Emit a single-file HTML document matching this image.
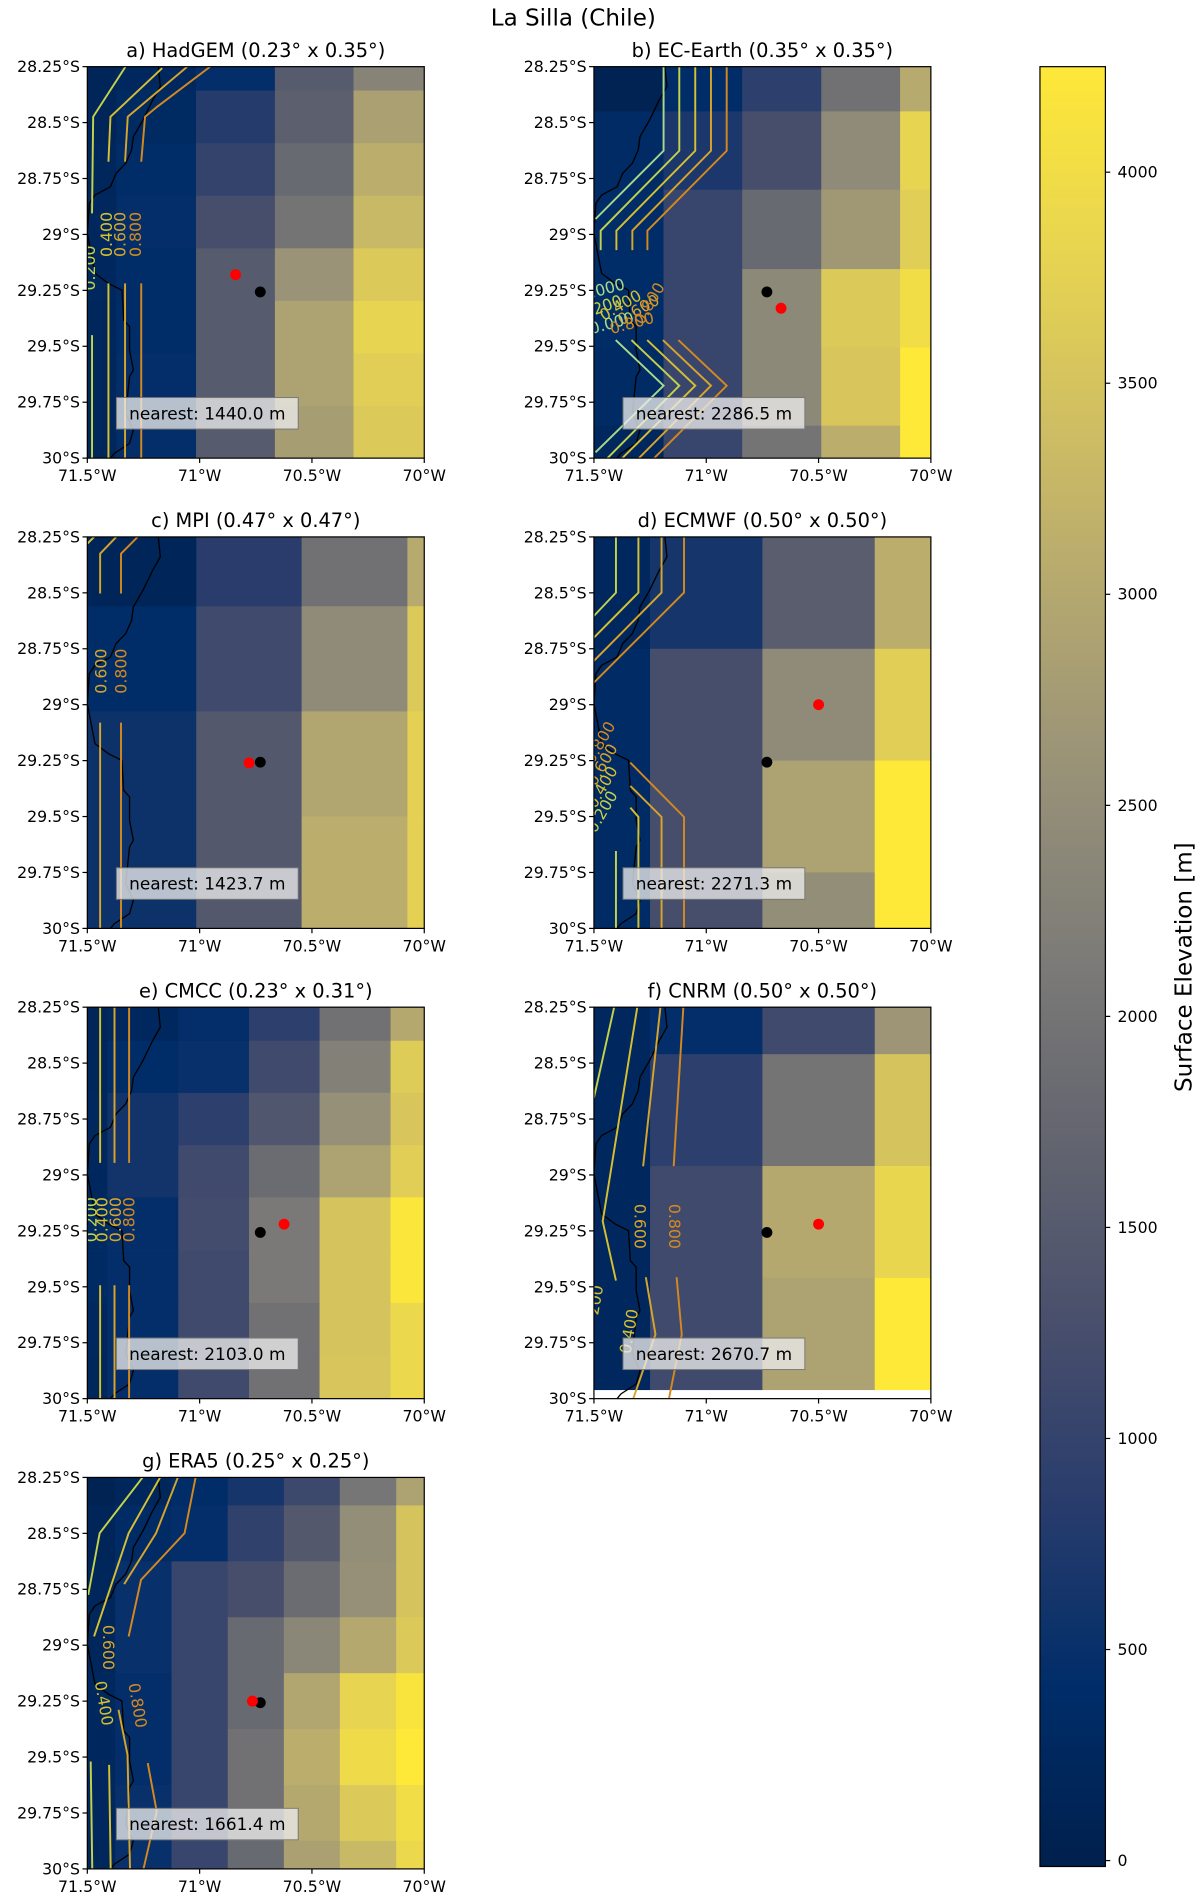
<!DOCTYPE html>
<html><head><meta charset="utf-8"><style>
html,body{margin:0;padding:0;background:#fff;}
svg{display:block;font-family:"DejaVu Sans","Liberation Sans",sans-serif;}
</style></head><body>
<svg id="fig" width="1200" height="1898" viewBox="0 0 990 1566" xmlns="http://www.w3.org/2000/svg">
<text x="473" y="21" font-size="19" text-anchor="middle">La Silla (Chile)</text>
</svg>
<script>
// ---------- data ----------
const stationLon = 70.73, stationLat = 29.257;
const panelTitles = ["a) HadGEM (0.23° x 0.35°)","b) EC-Earth (0.35° x 0.35°)","c) MPI (0.47° x 0.47°)","d) ECMWF (0.50° x 0.50°)","e) CMCC (0.23° x 0.31°)","f) CNRM (0.50° x 0.50°)","g) ERA5 (0.25° x 0.25°)"];
const nearestLabels = ["nearest: 1440.0 m","nearest: 2286.5 m","nearest: 1423.7 m","nearest: 2271.3 m","nearest: 2103.0 m","nearest: 2670.7 m","nearest: 1661.4 m"];
const modelLon = [70.84,70.667,70.78,70.5,70.624,70.5,70.765];
const modelLat = [29.18,29.33,29.26,29.0,29.22,29.22,29.25];
const lonEdgesA=[71.6,71.37,71.016,70.665,70.315,69.96];
const latEdgesA=[28.12,28.357,28.592,28.827,29.062,29.297,29.532,29.767,30.002];
const valsA=[[150,250,450,1500,2300],[150,300,800,1600,2850],[200,400,1000,1800,3100],[250,450,1250,2000,3300],[250,400,1500,2600,3600],[200,400,1500,2900,3800],[200,450,1500,2900,3700],[200,450,1500,2800,3600]];
const lonEdgesB=[71.6,71.19,70.84,70.488,70.137,69.9];
const latEdgesB=[28.1,28.45,28.8,29.155,29.505,29.855,30.2];
const valsB=[[100,400,900,1950,3050],[350,700,1250,2450,3800],[400,1050,1800,2700,3700],[400,1050,2400,3600,4000],[350,1050,2400,3550,4250],[250,1050,2000,3100,4250]];
const lonEdgesC=[71.96,71.49,71.015,70.546,70.075,69.6];
const latEdgesC=[28.09,28.56,29.03,29.5,29.97,30.44];
const valsC=[[150,150,850,1950,3050],[400,400,1150,2450,3600],[550,550,1450,2950,3750],[550,550,1450,3100,3750],[550,550,1450,3100,3750]];
const lonEdgesD=[71.75,71.25,70.75,70.25,69.75];
const latEdgesD=[28.25,28.75,29.25,29.75,30.25];
const valsD=[[250,650,1550,3100],[350,1250,2450,3700],[350,1250,2900,4250],[350,1250,2500,4250]];
const lonEdgesE=[71.6,71.41,71.095,70.78,70.466,70.15,69.9];
const latEdgesE=[28.16,28.4,28.633,28.867,29.1,29.338,29.572,29.807,30.04];
const valsE=[[150,250,450,900,1950,3000],[200,400,500,1150,2250,3650],[250,600,900,1400,2550,3550],[250,600,1150,1850,2900,3700],[300,450,1200,2100,3500,4200],[300,450,1150,2100,3500,4200],[250,450,1150,1950,3500,3900],[200,450,1150,1950,3550,3900]];
const lonEdgesF=[71.75,71.25,70.75,70.25,69.75];
const latEdgesF=[27.96,28.46,28.96,29.46,29.96];
const valsF=[[250,450,1150,2650],[250,900,2000,3500],[250,1150,3000,3850],[250,1150,2900,4250]];
const lonEdgesG=[71.6,71.376,71.125,70.875,70.625,70.376,70.125,69.9];
const latEdgesG=[28.125,28.375,28.625,28.875,29.125,29.375,29.625,29.875,30.125];
const valsG=[[100,200,400,650,1100,2050,2900],[150,350,450,950,1450,2500,3500],[200,500,1050,1250,1850,2550,3500],[200,500,1050,1800,2350,3000,3600],[250,450,1050,1800,2950,3800,4150],[250,450,1050,1950,3100,3950,4250],[250,500,1050,1950,3000,3600,4000],[200,500,1050,1800,2850,3300,3900]];
const coastLon=[71.184,71.175,71.209,71.252,71.295,71.303,71.329,71.372,71.397,71.466,71.491,71.5,71.466,71.406,71.346,71.338,71.312,71.312,71.295,71.312,71.329,71.295,71.312,71.38,71.397];
const coastLat=[28.25,28.339,28.399,28.488,28.563,28.623,28.682,28.727,28.787,28.824,28.861,28.995,29.174,29.219,29.249,29.383,29.412,29.517,29.606,29.636,29.8,29.874,29.934,29.979,30.0];
const contoursA=[[0.2,[71.33,71.474,71.479],[28.25,28.474,28.906]],[0.2,[71.479,71.479],[29.45,30]],[0.4,[71.167,71.397,71.406],[28.257,28.474,28.675]],[0.4,[71.406,71.406],[29.219,30]],[0.6,[71.055,71.32,71.332],[28.25,28.474,28.675]],[0.6,[71.332,71.332],[29.219,30]],[0.8,[70.953,71.19,71.243,71.26],[28.25,28.43,28.474,28.675]],[0.8,[71.26,71.26],[29.219,30]]];
const contoursB=[[0.0,[71.19,71.19,71.493],[28.25,28.626,28.931]],[0.2,[71.12,71.12,71.47,71.47],[28.25,28.626,28.983,29.07]],[0.4,[71.049,71.049,71.40,71.40],[28.25,28.626,28.983,29.07]],[0.6,[70.979,70.979,71.329,71.329],[28.25,28.626,28.983,29.07]],[0.8,[70.909,70.909,71.262,71.262],[28.25,28.626,28.983,29.07]],[0.0,[71.403,71.19,71.493],[29.472,29.676,29.974]],[0.2,[71.333,71.12,71.44],[29.472,29.676,30]],[0.4,[71.263,71.049,71.374],[29.472,29.676,30]],[0.6,[71.193,70.979,71.30],[29.472,29.676,30]],[0.8,[71.124,70.909,71.232],[29.472,29.676,30]]];
const contoursC=[[0.4,[71.5,71.47],[28.28,28.25]],[0.6,[71.371,71.443,71.443],[28.25,28.325,28.503]],[0.8,[71.276,71.35,71.35],[28.25,28.325,28.503]],[0.6,[71.443,71.443],[29.08,30]],[0.8,[71.35,71.35],[29.08,30]]];
const contoursD=[[0.2,[71.402,71.402,71.5],[28.25,28.499,28.603]],[0.4,[71.302,71.302,71.5],[28.25,28.499,28.7]],[0.6,[71.199,71.199,71.5],[28.25,28.499,28.804]],[0.8,[71.099,71.099,71.5],[28.25,28.499,28.901]],[0.8,[71.338,71.099,71.099],[29.259,29.502,30]],[0.6,[71.338,71.199,71.199],[29.363,29.502,30]],[0.4,[71.338,71.302,71.302],[29.46,29.502,30]],[0.2,[71.402,71.402],[29.654,30]]];
const contoursE=[[0.4,[71.443,71.443],[28.25,28.946]],[0.6,[71.379,71.379],[28.25,28.946]],[0.8,[71.314,71.314],[28.25,28.946]],[0.4,[71.443,71.443],[29.493,30]],[0.6,[71.379,71.379],[29.493,30]],[0.8,[71.314,71.314],[29.493,30]]];
const contoursF=[[0.2,[71.41,71.5],[28.25,28.655]],[0.4,[71.307,71.461,71.402],[28.25,29.207,29.472]],[0.6,[71.204,71.281],[28.25,28.961]],[0.8,[71.102,71.145],[28.25,28.961]],[0.6,[71.269,71.226,71.325],[29.457,29.713,30]],[0.8,[71.132,71.109,71.166],[29.457,29.713,30]]];
const contoursG=[[0.2,[71.254,71.445,71.496],[28.25,28.499,28.775]],[0.4,[71.176,71.316,71.47],[28.25,28.499,28.961]],[0.6,[71.097,71.194,71.336],[28.25,28.499,28.727]],[0.8,[71.018,71.067,71.261,71.316],[28.25,28.499,28.708,28.961]],[0.2,[71.485,71.478],[29.52,30]],[0.4,[71.403,71.396],[29.535,30]],[0.6,[71.361,71.321,71.31],[29.289,29.49,30]],[0.8,[71.231,71.191,71.25],[29.527,29.743,30]]];
const labelsA=[["0.400",71.41,29.0,-90],["0.600",71.35,29.0,-90],["0.800",71.28,29.0,-90],["0.200",71.485,29.15,-90]];
const labelsB=[["0.000",71.46,29.25,-15],["0.200",71.47,29.33,-20],["0.400",71.38,29.32,-30],["0.600",71.3,29.34,-30],["0.800",71.25,29.31,-60],["0.000",71.42,29.4,-15],["0.800",71.33,29.4,-15]];
const labelsC=[["0.600",71.435,28.85,-90],["0.800",71.345,28.85,-90]];
const labelsD=[["0.800",71.47,29.17,-60],["0.600",71.46,29.27,-60],["0.400",71.46,29.37,-60],["0.200",71.46,29.48,-60]];
const labelsE=[["0.200",71.48,29.2,-90],["0.400",71.43,29.2,-90],["0.600",71.37,29.2,-90],["0.800",71.31,29.2,-90]];
const labelsF=[["0.600",71.3,29.23,90],["0.800",71.145,29.23,90],["0.400",71.34,29.7,-80],["200",71.49,29.56,-80]];
const labelsG=[["0.600",71.41,29.01,90],["0.400",71.43,29.26,80],["0.800",71.28,29.27,80]];
const yTicks=[28.25,28.5,28.75,29,29.25,29.5,29.75,30];
const yTickLabels=["28.25°S","28.5°S","28.75°S","29°S","29.25°S","29.5°S","29.75°S","30°S"];
const xTicks=[71.5,71,70.5,70];
const xTickLabels=["71.5°W","71°W","70.5°W","70°W"];
const cbTicks=[0,500,1000,1500,2000,2500,3000,3500,4000];
// ---------- rendering ----------
const NS="http://www.w3.org/2000/svg";
const svg=document.getElementById('fig');
function mk(tag,attrs,parent){const e=document.createElementNS(NS,tag);for(const k in attrs)e.setAttribute(k,attrs[k]);(parent||svg).appendChild(e);return e;}
const cstops=[[0,[0,32,77]],[0.1,[0,45,105]],[0.2,[40,60,108]],[0.3,[72,79,108]],[0.4,[98,100,111]],[0.5,[123,122,119]],[0.6,[150,144,120]],[0.7,[178,166,112]],[0.8,[207,190,99]],[0.9,[232,213,80]],[1,[254,232,56]]];
const VMIN=-14,VMAX=4250;
function cmap(v){let t=(v-VMIN)/(VMAX-VMIN);t=Math.max(0,Math.min(1,t));for(let i=1;i<cstops.length;i++){if(t<=cstops[i][0]){const a=cstops[i-1],b=cstops[i];const f=(t-a[0])/(b[0]-a[0]);const c=a[1].map((x,j)=>Math.round(x+(b[1][j]-x)*f));return `rgb(${c[0]},${c[1]},${c[2]})`;}}return 'rgb(254,232,56)';}
const levelColor={0:'#a8d88a',0.2:'#c4d24a',0.4:'#d6c031',0.6:'#d8a42a',0.8:'#d4891f'};
const panels=[
 {x:72,y:55,lon:lonEdgesA,lat:latEdgesA,v:valsA,c:contoursA,l:labelsA},
 {x:490,y:55,lon:lonEdgesB,lat:latEdgesB,v:valsB,c:contoursB,l:labelsB},
 {x:72,y:443,lon:lonEdgesC,lat:latEdgesC,v:valsC,c:contoursC,l:labelsC},
 {x:490,y:443,lon:lonEdgesD,lat:latEdgesD,v:valsD,c:contoursD,l:labelsD},
 {x:72,y:831,lon:lonEdgesE,lat:latEdgesE,v:valsE,c:contoursE,l:labelsE},
 {x:490,y:831,lon:lonEdgesF,lat:latEdgesF,v:valsF,c:contoursF,l:labelsF},
 {x:72,y:1219,lon:lonEdgesG,lat:latEdgesG,v:valsG,c:contoursG,l:labelsG}];
const W=278,H=323;
const defs=mk('defs',{});
panels.forEach((p,i)=>{
 const sx=lon=>p.x+(71.5-lon)/1.5*W;
 const sy=lat=>p.y+(lat-28.25)/1.75*H;
 const g=mk('g',{});
 
 
 const cp=mk('clipPath',{id:'cp'+i},defs);mk('rect',{x:p.x,y:p.y,width:W,height:H},cp);
 const inner=mk('g',{'clip-path':'url(#cp'+i+')'},g);
 for(let r=0;r<p.v.length;r++)for(let c=0;c<p.v[r].length;c++){
  const x1=sx(p.lon[c]),x2=sx(p.lon[c+1]),y1=sy(p.lat[r]),y2=sy(p.lat[r+1]);
  const cell=mk('rect',{x:x1,y:y1,width:x2-x1+0.3,height:y2-y1+0.3,fill:cmap(p.v[r][c])},inner);
  
  
 }
 const coast=mk('polyline',{points:coastLon.map((lo,k)=>sx(lo)+','+sy(coastLat[k])).join(' '),fill:'none',stroke:'#000','stroke-width':1.1},inner);
 
 
 p.c.forEach(cl=>{
  const pl=mk('polyline',{points:cl[1].map((lo,k)=>sx(lo)+','+sy(cl[2][k])).join(' '),fill:'none',stroke:levelColor[cl[0]],'stroke-width':1.6},inner);
  
  
 });
 p.l.forEach(lb=>{
  const X=sx(lb[1]),Y=sy(lb[2]);
  const lv=parseFloat(lb[0]);const col=levelColor[lv]||levelColor[0.4];
  const t=mk('text',{x:X,y:Y,'font-size':13,fill:col,'text-anchor':'middle','dominant-baseline':'middle',transform:`rotate(${lb[3]} ${X} ${Y})`},inner);
  t.textContent=lb[0];
  
  
 });
 const st=mk('circle',{cx:sx(stationLon),cy:sy(stationLat),r:4.5,fill:'#000'},inner);
 
 
 const md=mk('circle',{cx:sx(modelLon[i]),cy:sy(modelLat[i]),r:4.5,fill:'#f00'},inner);
 
 
 const bx=mk('rect',{x:p.x+24,y:p.y+273,width:150,height:26,fill:'rgba(235,235,235,0.78)',stroke:'#777','stroke-width':0.8},g);
 
 
 const bt=mk('text',{x:p.x+99,y:p.y+291,'font-size':14,'text-anchor':'middle'},g);
 bt.textContent=nearestLabels[i];
 
 
 const fr=mk('rect',{x:p.x,y:p.y,width:W,height:H,fill:'none',stroke:'#000','stroke-width':1},g);
 
 
 const tt=mk('text',{x:p.x+W/2,y:p.y-8,'font-size':16,'text-anchor':'middle'},g);
 tt.textContent=panelTitles[i];
 
 
 yTicks.forEach((v,k)=>{
  mk('line',{x1:p.x-4,x2:p.x,y1:sy(v),y2:sy(v),stroke:'#000'},g);
  const t=mk('text',{x:p.x-6,y:sy(v)+4.5,'font-size':13,'text-anchor':'end'},g);
  t.textContent=yTickLabels[k];
  
  
 });
 xTicks.forEach((v,k)=>{
  mk('line',{x1:sx(v),x2:sx(v),y1:p.y+H,y2:p.y+H+4,stroke:'#000'},g);
  const t=mk('text',{x:sx(v),y:p.y+H+19,'font-size':13,'text-anchor':'middle'},g);
  t.textContent=xTickLabels[k];
  
  
 });
});
const cbX=858,cbW=54,cbTop=55,cbBot=1540;
const cby=v=>cbBot-(v-VMIN)/(VMAX-VMIN)*(cbBot-cbTop);
const lg=mk('linearGradient',{id:'cbg',x1:0,y1:1,x2:0,y2:0},defs);
cstops.forEach(s=>mk('stop',{offset:s[0],'stop-color':`rgb(${s[1].join(',')})`},lg));
const cb=mk('rect',{x:cbX,y:cbTop,width:cbW,height:cbBot-cbTop,fill:'url(#cbg)',stroke:'#000','stroke-width':1});


cbTicks.forEach(v=>{
 mk('line',{x1:cbX+cbW,x2:cbX+cbW+4,y1:cby(v),y2:cby(v),stroke:'#000'});
 const t=mk('text',{x:cbX+cbW+10,y:cby(v)+4.5,'font-size':13});
 t.textContent=String(v);
 
 
});
const cl=mk('text',{x:983,y:798,'font-size':19,'text-anchor':'middle',transform:'rotate(-90 983 798)'});
cl.textContent='Surface Elevation [m]';


</script>
</body></html>
